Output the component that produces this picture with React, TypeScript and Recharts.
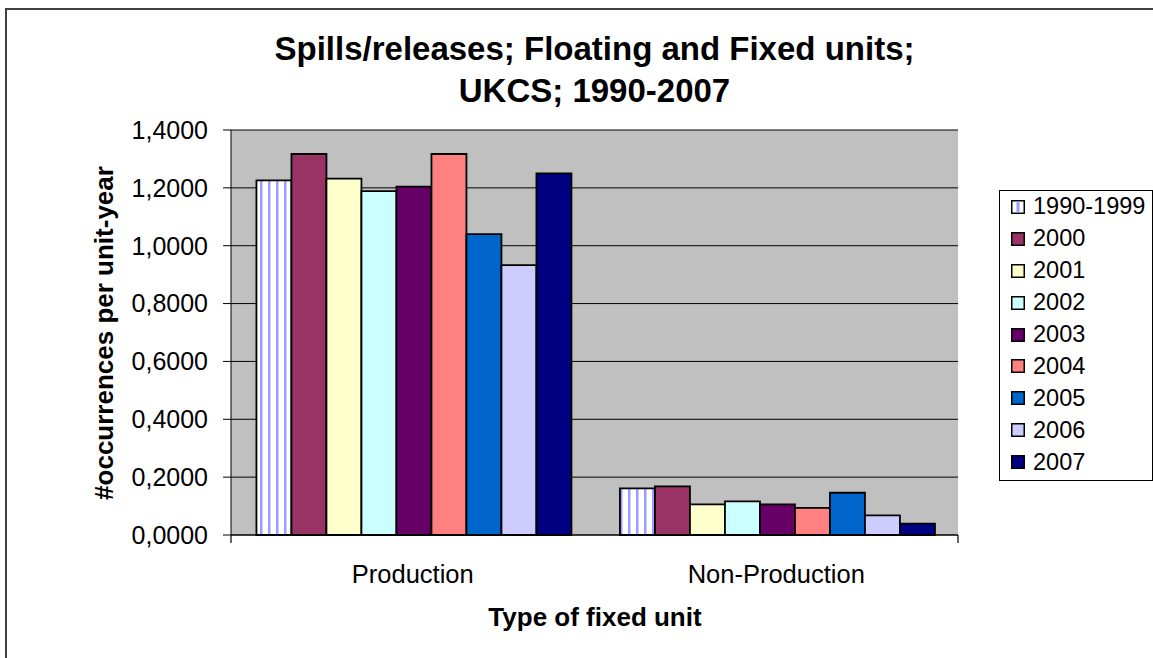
import { BarChart, Bar, XAxis, YAxis, CartesianGrid, Legend } from 'recharts';

const categories = ['Production', 'Non-Production'];
const seriesNames = ['1990-1999', '2000', '2001', '2002', '2003', '2004', '2005', '2006', '2007'];
const seriesColors = ['url(#stripes)', '#993366', '#FFFFCC', '#CCFFFF', '#660066', '#FF8080', '#0066CC', '#CCCCFF', '#000080'];

// values per series: [Production, Non-Production]
const v1990_1999 = [1.226, 0.161];
const v2000 = [1.317, 0.168];
const v2001 = [1.232, 0.106];
const v2002 = [1.189, 0.116];
const v2003 = [1.204, 0.106];
const v2004 = [1.317, 0.094];
const v2005 = [1.04, 0.146];
const v2006 = [0.933, 0.068];
const v2007 = [1.25, 0.039];
const seriesValues = [v1990_1999, v2000, v2001, v2002, v2003, v2004, v2005, v2006, v2007];

const yTicks = [0, 0.2, 0.4, 0.6, 0.8, 1.0, 1.2, 1.4];
const edgeTicks = [0, 1, 2];

const data = categories.map((cat, i) => {
    const row: Record<string, string | number> = { cat };
    seriesNames.forEach((name, s) => {
        row[name] = seriesValues[s][i];
    });
    return row;
});

const FONT = '"Liberation Sans", Arial, sans-serif';
const fmt = (v: number) => v.toFixed(4).replace('.', ',');

const LegendBox = () => (
    <div
        style={{
            width: 154,
            height: 291,
            boxSizing: 'border-box',
            border: '1.5px solid #000',
            background: '#fff',
            fontFamily: FONT,
            fontSize: 23.5,
            color: '#000',
        }}
    >
        {seriesNames.map((name, i) => (
            <div key={name} style={{ height: 31.9, display: 'flex', alignItems: 'center', paddingLeft: 11 }}>
                <svg width={14} height={14} style={{ marginRight: 8, flex: 'none' }}>
                    <rect x={0.75} y={0.75} width={12.5} height={12.5} fill={i === 0 ? '#fff' : seriesColors[i]} stroke="#000" strokeWidth={1.5} />
                    {i === 0 && <rect x={5.5} y={1.5} width={3} height={11} fill="#9C9CFF" />}
                </svg>
                <span>{name}</span>
            </div>
        ))}
    </div>
);

export default function App() {
    return (
        <div style={{ position: 'absolute', left: 0, top: 0, width: 1153, height: 658, background: '#fff', overflow: 'hidden' }}>
            {/* outer frame, only top and left edges visible */}
            <div style={{ position: 'absolute', left: 5, top: 8, width: 1300, height: 800, borderLeft: '2px solid #404040', borderTop: '2px solid #404040' }} />

            {/* Title */}
            <div
                style={{
                    position: 'absolute', left: 0, top: 28, width: 1189, textAlign: 'center',
                    fontFamily: FONT, fontWeight: 'bold', fontSize: 33, lineHeight: '42px', color: '#000',
                }}
            >
                Spills/releases; Floating and Fixed units;<br />UKCS; 1990-2007
            </div>

            <div style={{ position: 'absolute', left: 0, top: 0 }}>
                <BarChart
                    width={1153}
                    height={658}
                    data={data}
                    margin={{ top: 130, right: 195, bottom: 83, left: 171 }}
                    barCategoryGap="7%"
                    barGap={0}
                >
                    <defs>
                        <pattern id="stripes" patternUnits="userSpaceOnUse" width={8} height={10}>
                            <rect x={0} y={0} width={8} height={10} fill="#fff" />
                            <rect x={4} y={0} width={2.5} height={10} fill="#9C9CFF" />
                        </pattern>
                    </defs>
                    <CartesianGrid xAxisId="b" vertical={false} stroke="#000" fill="#C0C0C0" strokeWidth={1} />
                    {/* baseline with tick marks between categories */}
                    <XAxis
                        xAxisId="a"
                        type="number"
                        domain={[0, 2]}
                        ticks={edgeTicks}
                        tickFormatter={() => ''}
                        axisLine={{ stroke: '#000', strokeWidth: 1.2 }}
                        tickLine={{ stroke: '#000', strokeWidth: 1.2 }}
                        tickSize={8}
                        height={8}
                    />
                    <XAxis
                        xAxisId="b"
                        dataKey="cat"
                        axisLine={false}
                        tickLine={false}
                        tickSize={0}
                        tickMargin={22}
                        height={32}
                        tick={{ fontFamily: FONT, fontSize: 25.5, fill: '#000' }}
                    />
                    <XAxis
                        xAxisId="top"
                        orientation="top"
                        type="number"
                        domain={[0, 2]}
                        tick={false}
                        tickLine={false}
                        axisLine={{ stroke: '#808080' }}
                        height={0}
                    />
                    <YAxis
                        domain={[0, 1.4]}
                        ticks={yTicks}
                        tickFormatter={fmt}
                        width={60}
                        tickSize={8}
                        tickMargin={15}
                        axisLine={{ stroke: '#000' }}
                        tickLine={{ stroke: '#000' }}
                        tick={{ fontFamily: FONT, fontSize: 25, fill: '#000' }}
                    />
                    <YAxis
                        yAxisId="right"
                        orientation="right"
                        width={0}
                        tick={false}
                        tickLine={false}
                        axisLine={{ stroke: '#808080' }}
                    />
                    <Legend
                        layout="vertical"
                        align="center"
                        verticalAlign="middle"
                        wrapperStyle={{ left: 999, top: 190, width: 154, height: 291 }}
                        content={() => <LegendBox />}
                    />
                    {seriesNames.map((name, i) => (
                        <Bar
                            key={name}
                            xAxisId="b"
                            dataKey={name}
                            fill={seriesColors[i]}
                            stroke="#000"
                            strokeWidth={1.8}
                            isAnimationActive={false}
                        />
                    ))}
                </BarChart>
            </div>

            {/* Y axis title */}
            <div
                style={{
                    position: 'absolute', left: 104 - 250, top: 333 - 15, width: 500, height: 30,
                    transform: 'rotate(-90deg)', textAlign: 'center', lineHeight: '30px',
                    fontFamily: FONT, fontWeight: 'bold', fontSize: 26, color: '#000',
                }}
            >
                #occurrences per unit-year
            </div>

            {/* X axis title */}
            <div
                style={{
                    position: 'absolute', left: 295, top: 602, width: 600, textAlign: 'center', lineHeight: '30px',
                    fontFamily: FONT, fontWeight: 'bold', fontSize: 26, color: '#000',
                }}
            >
                Type of fixed unit
            </div>
        </div>
    );
}
